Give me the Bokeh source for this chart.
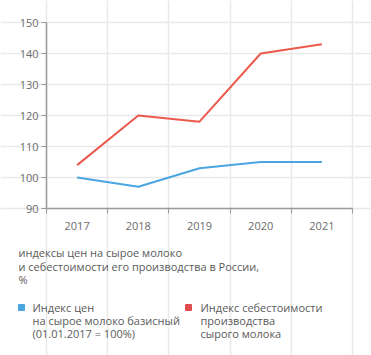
from bokeh.plotting import figure
from bokeh.models import FixedTicker, Range1d
from bokeh.core.properties import value
from bokeh.embed import file_html
from bokeh.resources import INLINE

years = [2017, 2018, 2019, 2020, 2021]
price_index = [100, 97, 103, 105, 105]
cost_index = [104, 120, 118, 140, 143]
y_ticks = [90, 100, 110, 120, 130, 140, 150]

title_lines = ["индексы цен на сырое молоко",
               "и себестоимости его производства в России,",
               "%"]
legend_price = ["Индекс цен", "на сырое молоко базисный", "(01.01.2017 = 100%)"]
legend_cost = ["Индекс себестоимости", "производства", "сырого молока"]

BLUE = "#4AA5E3"
RED = "#EC5A4E"
RED_SQ = "#E04C4E"
FONT = "Open Sans"
GRID = "#E9E9E9"
AXIS = "#9A9A9A"
TICK_TXT = "#6B6B6B"
TXT = "#5A5A5A"

W, H = 371, 355
# chart area inside the canvas (pixels)
CL, CR, CT, CB = 46, 352, 22, 208

x0, x1 = years[0] - 0.5, years[-1] + 0.5
y0, y1 = y_ticks[0], y_ticks[-1]
kx = (CR - CL) / (x1 - x0)
ky = (CB - CT) / (y1 - y0)

p = figure(width=W, height=H, output_backend="svg", toolbar_location=None,
           x_range=Range1d(x0 - CL / kx, x1 + (W - CR) / kx),
           y_range=Range1d(y0 - (H - CB) / ky, y1 + CT / ky),
           min_border=0, min_border_left=0, min_border_right=0,
           min_border_top=0, min_border_bottom=0)
p.outline_line_color = None
p.extra_x_ranges = {"px": Range1d(0, W)}
p.extra_y_ranges = {"px": Range1d(H, 0)}

bounds = [y - 0.5 for y in years] + [years[-1] + 0.5]

p.xgrid.ticker = FixedTicker(ticks=bounds)
p.xgrid.bounds = (y0, y1)
p.xgrid.grid_line_color = GRID
p.xgrid.grid_line_width = 1.5
p.ygrid.ticker = FixedTicker(ticks=y_ticks)
p.ygrid.bounds = (x0, x1)
p.ygrid.grid_line_color = GRID
p.ygrid.grid_line_width = 1.5

p.line(years, cost_index, color=RED, line_width=2)
p.line(years, price_index, color=BLUE, line_width=2)

p.xaxis.fixed_location = y0
p.xaxis.bounds = (x0, x1)
p.xaxis.ticker = FixedTicker(ticks=years, minor_ticks=bounds)
p.xaxis.major_tick_out = 0
p.xaxis.major_tick_in = 0
p.xaxis.minor_tick_out = 5
p.xaxis.minor_tick_in = 0
p.xaxis.minor_tick_line_color = AXIS
p.xaxis.axis_line_color = AXIS
p.xaxis.axis_line_width = 1.5
p.xaxis.major_label_standoff = 8

p.yaxis.fixed_location = x0
p.yaxis.bounds = (y0, y1)
p.yaxis.ticker = FixedTicker(ticks=y_ticks)
p.yaxis.major_tick_out = 5
p.yaxis.major_tick_in = 0
p.yaxis.major_tick_line_color = AXIS
p.yaxis.minor_tick_line_color = None
p.yaxis.axis_line_color = AXIS
p.yaxis.axis_line_width = 1.5
p.yaxis.major_label_standoff = 3

for ax in (p.xaxis, p.yaxis):
    ax.major_label_text_font = FONT
    ax.major_label_text_font_size = "11px"
    ax.major_label_text_color = TICK_TXT

# caption and legend (pixel coordinates via extra ranges)
txt = dict(x_range_name="px", y_range_name="px", text_font=value(FONT),
           text_font_size="11px", text_color=TXT, text_baseline="middle")
p.text(x=[18] * 3, y=[252, 266, 279], text=title_lines, **txt)
p.text(x=[32] * 3, y=[307, 320, 333], text=legend_price, **txt)
p.text(x=[200] * 3, y=[307, 320, 333], text=legend_cost, **txt)

p.scatter(x=[21], y=[307], marker="square", size=6, color=BLUE,
          x_range_name="px", y_range_name="px")
p.scatter(x=[188], y=[307], marker="square", size=6, color=RED_SQ,
          x_range_name="px", y_range_name="px")

open("out.html", "w").write(file_html(p, INLINE))
